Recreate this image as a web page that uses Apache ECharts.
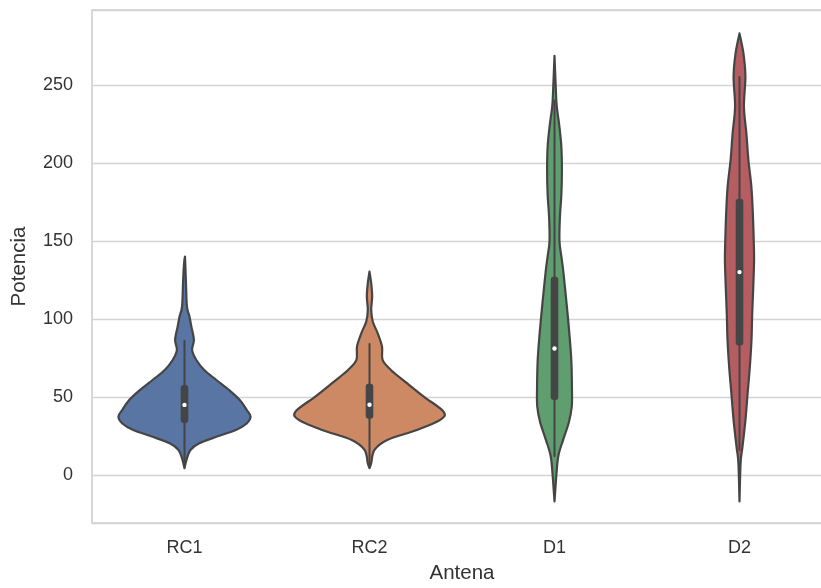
<!DOCTYPE html>
<html>
<head>
<meta charset="utf-8">
<script src="https://cdn.jsdelivr.net/npm/echarts@6/dist/echarts.min.js"></script>
<style>
  html, body { margin: 0; padding: 0; background: #ffffff; }
  #chart { width: 821px; height: 588px; }
</style>
</head>
<body>
<div id="chart"></div>
<script>
// Antenna categories
const categories = ['RC1', 'RC2', 'D1', 'D2'];

// Kernel density profiles: value levels and relative density (1 = widest violin)
const rc1Level   = [4.3, 9.6, 16, 20.3, 24.6, 28.8, 33, 37.4, 41.7, 48, 54.5, 61, 67.3, 73.7, 80, 86.5, 95, 101.5, 108, 123, 140];
const rc1Density = [0, 0.027, 0.08, 0.2, 0.44, 0.693, 0.84, 0.893, 0.84, 0.747, 0.6, 0.427, 0.267, 0.16, 0.103, 0.127, 0.093, 0.067, 0.033, 0.02, 0.007];

const rc2Level   = [4.3, 7.5, 16, 22.4, 28.8, 35.3, 40.6, 50.2, 58.8, 67.3, 73.7, 82.3, 90.8, 98.3, 105.8, 114.3, 122.9, 130.3];
const rc2Density = [0, 0.023, 0.067, 0.24, 0.64, 0.956, 1.0, 0.733, 0.507, 0.289, 0.177, 0.169, 0.111, 0.044, 0.023, 0.036, 0.023, 0];

const d1Level    = [-17, 1, 12.5, 23, 34, 43.8, 55, 73.7, 91, 108, 130, 140, 150, 165, 180, 195, 210, 223, 236, 245, 268.6];
const d1Density  = [0, 0.027, 0.053, 0.12, 0.195, 0.233, 0.236, 0.227, 0.2, 0.167, 0.12, 0.093, 0.067, 0.073, 0.093, 0.1, 0.093, 0.067, 0.031, 0.02, 0];

const d2Level    = [-17, 7.7, 18, 35, 52.4, 69.4, 86.5, 103.6, 120.7, 137.8, 150.6, 168, 185, 202, 219, 236, 255.3, 270.3, 283];
const d2Density  = [0, 0.015, 0.04, 0.08, 0.11, 0.14, 0.162, 0.172, 0.186, 0.197, 0.192, 0.18, 0.16, 0.12, 0.093, 0.06, 0.08, 0.053, 0];

// Box-plot summaries per antenna
const boxQ1       = [33.3, 36, 48, 83];
const boxMedian   = [44.9, 45, 81, 130];
const boxQ3       = [57.7, 58.5, 127, 177];
const whiskerLow  = [8, 7, 12, 16];
const whiskerHigh = [86, 84, 240, 255];

const levels = [rc1Level, rc2Level, d1Level, d2Level];
const densities = [rc1Density, rc2Density, d1Density, d2Density];
const fills = ['#5975A3', '#CC8963', '#5F9E6E', '#B55D60'];
const lineGray = '#454545';
const font = '"Liberation Sans", Arial, Helvetica, sans-serif';

// Smooth open curve through pixel points (Catmull-Rom as cubic Beziers)
function curveSegments(pts) {
  let d = '';
  for (let k = 0; k < pts.length - 1; k++) {
    const p0 = pts[Math.max(k - 1, 0)], p1 = pts[k], p2 = pts[k + 1], p3 = pts[Math.min(k + 2, pts.length - 1)];
    const c1 = [p1[0] + (p2[0] - p0[0]) / 6, p1[1] + (p2[1] - p0[1]) / 6];
    const c2 = [p2[0] - (p3[0] - p1[0]) / 6, p2[1] - (p3[1] - p1[1]) / 6];
    d += ' C' + c1[0].toFixed(2) + ',' + c1[1].toFixed(2) + ' ' + c2[0].toFixed(2) + ',' + c2[1].toFixed(2) + ' ' + p2[0].toFixed(2) + ',' + p2[1].toFixed(2);
  }
  return d;
}

function violinPath(i, api) {
  const lv = levels[i], dn = densities[i];
  const cx = api.coord([i, 0])[0];
  const half = api.size([1, 0])[0] * 0.4;
  const right = [], left = [];
  for (let k = 0; k < lv.length; k++) {
    const y = api.coord([i, lv[k]])[1];
    right.push([cx + dn[k] * half, y]);
    left.push([cx - dn[k] * half, y]);
  }
  left.reverse();
  return 'M' + right[0][0].toFixed(2) + ',' + right[0][1].toFixed(2) + curveSegments(right) + curveSegments(left) + ' Z';
}

function renderViolin(params, api) {
  const i = api.value(0);
  const cx = api.coord([i, 0])[0];
  const yq1 = api.coord([i, boxQ1[i]])[1];
  const yq3 = api.coord([i, boxQ3[i]])[1];
  const ymed = api.coord([i, boxMedian[i]])[1];
  const ylo = api.coord([i, whiskerLow[i]])[1];
  const yhi = api.coord([i, whiskerHigh[i]])[1];
  const boxW = 7.6;
  return {
    type: 'group',
    children: [
      {
        type: 'path',
        shape: { pathData: violinPath(i, api) },
        style: { fill: fills[i], stroke: lineGray, lineWidth: 2.2, lineJoin: 'round' }
      },
      {
        type: 'line',
        shape: { x1: cx, y1: yhi, x2: cx, y2: ylo },
        style: { stroke: lineGray, lineWidth: 2, lineCap: 'round' }
      },
      {
        type: 'rect',
        shape: { x: cx - boxW / 2, y: yq3, width: boxW, height: yq1 - yq3, r: 3 },
        style: { fill: lineGray }
      },
      {
        type: 'circle',
        shape: { cx: cx, cy: ymed, r: 2.2 },
        style: { fill: '#ffffff' }
      }
    ]
  };
}

const chart = echarts.init(document.getElementById('chart'), null, { renderer: 'canvas' });
chart.setOption({
  animation: false,
  backgroundColor: '#ffffff',
  grid: {
    left: 92, top: 10, width: 740, height: 513,
    outerBoundsMode: 'none',
    containLabel: false,
    show: true, borderColor: '#cccccc', borderWidth: 1.5, backgroundColor: 'transparent'
  },
  xAxis: {
    type: 'category',
    data: categories,
    boundaryGap: true,
    name: 'Antena',
    nameLocation: 'middle',
    nameGap: 40,
    nameTextStyle: { fontFamily: font, fontSize: 20.5, color: '#333333' },
    axisLine: { show: false },
    axisTick: { show: false },
    splitLine: { show: false },
    axisLabel: { fontFamily: font, fontSize: 18, color: '#333333', margin: 16 }
  },
  yAxis: {
    type: 'value',
    min: -30.8,
    max: 298,
    splitNumber: 6,
    minInterval: 50,
    maxInterval: 50,
    name: 'Potencia',
    nameLocation: 'middle',
    nameGap: 62,
    nameTextStyle: { fontFamily: font, fontSize: 20.5, color: '#333333' },
    axisLine: { show: false },
    axisTick: { show: false },
    splitLine: { show: true, lineStyle: { color: '#d4d4d4', width: 1.4 } },
    axisLabel: {
      fontFamily: font, fontSize: 18, color: '#333333', margin: 19,
      showMinLabel: false, showMaxLabel: false
    }
  },
  series: [{
    type: 'custom',
    renderItem: renderViolin,
    encode: { x: 0 },
    data: categories.map((c, i) => [i]),
    clip: false
  }]
});
</script>
</body>
</html>
